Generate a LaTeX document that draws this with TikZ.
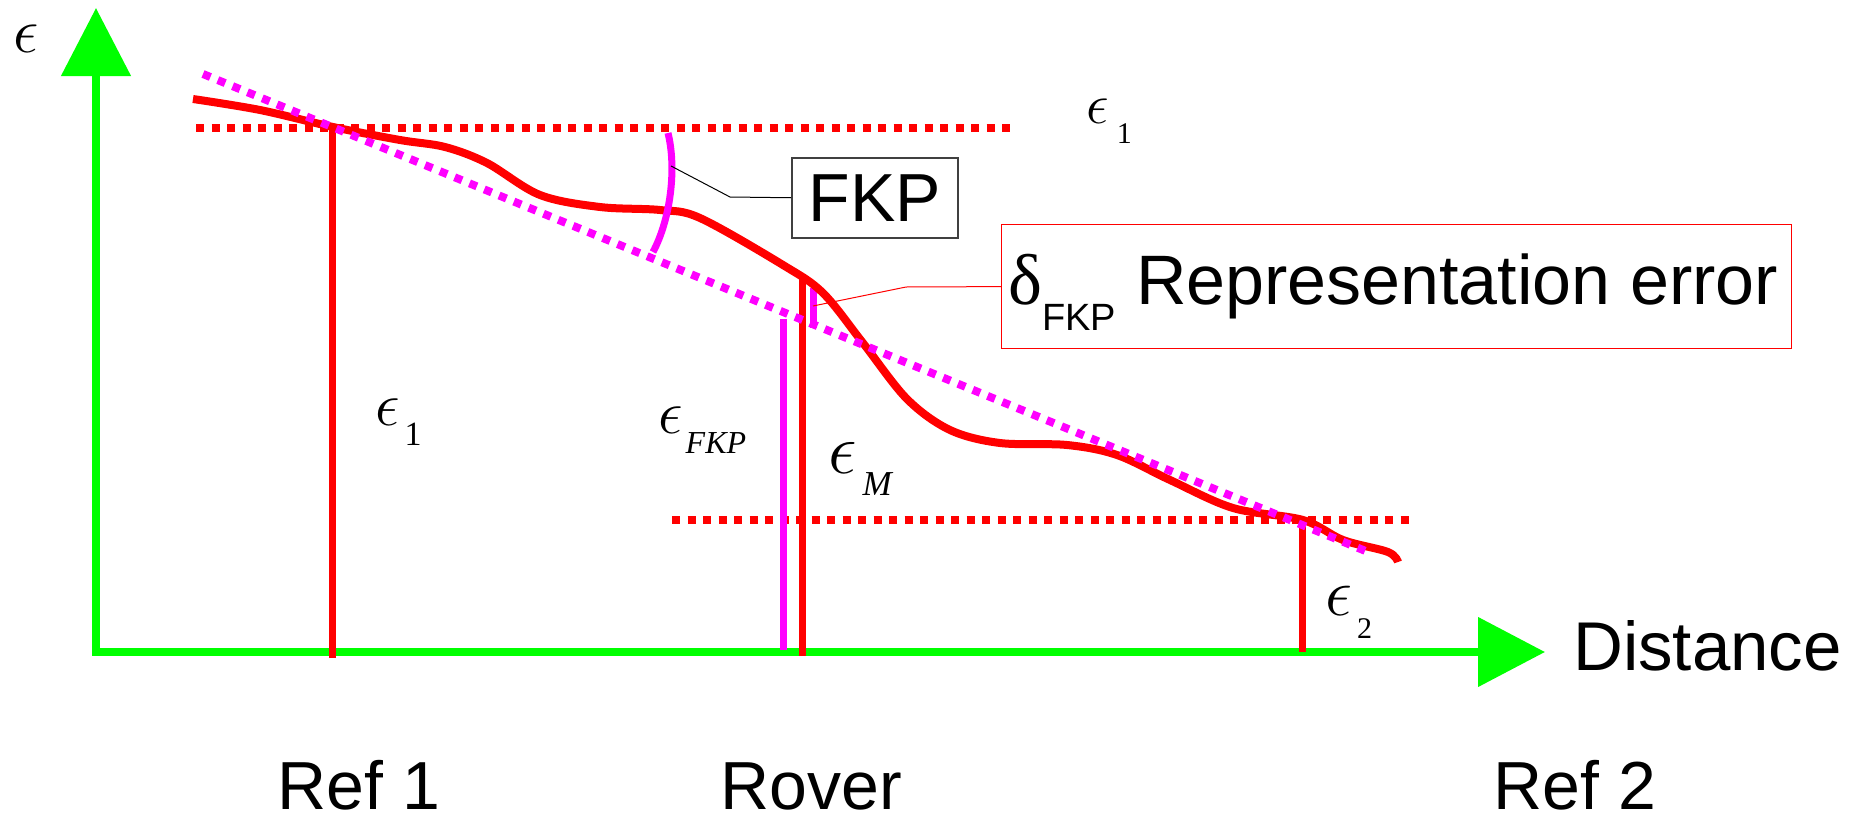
\RequirePackage{fix-cm}
\documentclass[tikz,border=0pt]{standalone}
\usepackage{fontspec}
\setmainfont{Liberation Sans}
\newfontfamily\tmsfont{Liberation Serif}
\usetikzlibrary{arrows.meta}
\definecolor{pgreen}{RGB}{0,255,0}
\definecolor{pred}{RGB}{255,0,0}
\definecolor{pmag}{RGB}{255,0,255}
\tikzset{
 axisline/.style={draw=pgreen, line width=8pt, line join=miter},
 curveline/.style={draw=pred, line width=8pt, line join=round},
 refdots/.style={draw=pred, line width=8pt, dash pattern=on 8pt off 7.5pt},
 magdots/.style={draw=pmag, line width=8pt, dash pattern=on 8pt off 8pt},
 redbar/.style={draw=pred, line width=7pt},
 magbar/.style={draw=pmag, line width=7pt},
 lbl/.style={inner sep=0pt, anchor=base west},
 bigtext/.style={inner sep=0pt, anchor=base, font=\fontsize{68}{80}\selectfont},
 fkpbox/.style={draw=black!75, line width=1.5pt, inner sep=0pt, font=\fontsize{68}{80}\selectfont},
 deltabox/.style={draw=pred, line width=1.2pt, inner sep=0pt},
 blackleader/.style={draw=black, line width=1pt},
 redleader/.style={draw=pred, line width=1pt},
}
\newcommand\epsglyph[1]{{\fontsize{#1}{#1}\selectfont$\epsilon$}}
\newcommand\epslab[4]{\epsglyph{#1}\hspace{#4}\raisebox{-#3}{#2}}
\begin{document}
\begin{tikzpicture}[x=1pt,y=-1pt]
\useasboundingbox (0,0) rectangle (1857,819);
% axes
\draw[axisline, {Triangle[length=68pt,width=68pt]}-{Triangle[length=67pt,width=68pt]}] (96,8) -- (96,652) -- (1545,652);
% reference horizontal dotted lines
\draw[refdots] (196,128) -- (1015,128);
\draw[refdots] (672,520) -- (1410,520);
% vertical bars
\draw[redbar] (332,128) -- (332,658);
\draw[redbar] (802,278) -- (802,656);
\draw[magbar] (783,319) -- (783,650);
\draw[magbar] (813,288) -- (813,328);
\draw[redbar] (1302,520) -- (1302,652);
% error curve
\draw[curveline] plot[smooth, tension=0.55] coordinates {(193,99) (260,110) (333,127) (400,140) (445,147) (487,163) (540,195) (600,207) (660,210) (700,218) (783,265) (823,293) (863,343) (907,399) (950,430) (1000,443) (1067,445) (1117,455) (1170,480) (1233,508) (1303,520) (1343,540) (1388,552) (1398,562)};
% interpolation line
\draw[magdots] (203,74) -- (1368,552);
% FKP arc
\draw[magbar] (668,133) .. controls (677,170) and (670,220) .. (653,252);
\coordinate (arcpt) at (671,166);
\coordinate (delpt) at (813,306);
% boxes
\node[fkpbox, minimum width=166pt, minimum height=80pt, anchor=north west] (fkp) at (791,157) {FKP};
\node[deltabox, minimum width=790pt, minimum height=124pt, anchor=north west] (dbox) at (1001,224) {};
\node[lbl] (dtext) at (1008,304) {{\tmsfont\fontsize{72}{72}\selectfont δ}\raisebox{-26pt}{\fontsize{38}{38}\selectfont FKP}\hspace{20pt}{\fontsize{70}{80}\selectfont Representation error}};
% leaders
\draw[blackleader] (arcpt) -- (730,197) -- (fkp.west);
\draw[redleader] (delpt) -- (906,287) -- (dbox.west);
% epsilon labels
\node[lbl] (epsaxis) at (13,52) {\epsglyph{64}};
\node[lbl] (epsonetop) at (1086,123) {\epslab{57}{\tmsfont\fontsize{30}{30}\selectfont 1}{20pt}{8pt}};
\node[lbl] (epsonemid) at (375,425) {\epslab{62}{\tmsfont\fontsize{34}{34}\selectfont 1}{20pt}{5pt}};
\node[lbl] (epsfkp) at (658,433) {\epslab{62}{\tmsfont\itshape\fontsize{32}{32}\selectfont FKP}{20pt}{3pt}};
\node[lbl] (epsm) at (828,473) {\epslab{72}{\tmsfont\itshape\fontsize{35}{35}\selectfont M}{22pt}{6pt}};
\node[lbl] (epstwo) at (1325,615) {\epslab{68}{\tmsfont\fontsize{30}{30}\selectfont 2}{23pt}{5pt}};
% axis and position labels
\node[lbl, font=\fontsize{69}{80}\selectfont] (dist) at (1573,670) {Distance};
\node[bigtext] (ref1) at (359,809) {Ref 1};
\node[bigtext] (rover) at (811,809) {Rover};
\node[bigtext] (ref2) at (1575,809) {Ref 2};
\end{tikzpicture}
\end{document}
